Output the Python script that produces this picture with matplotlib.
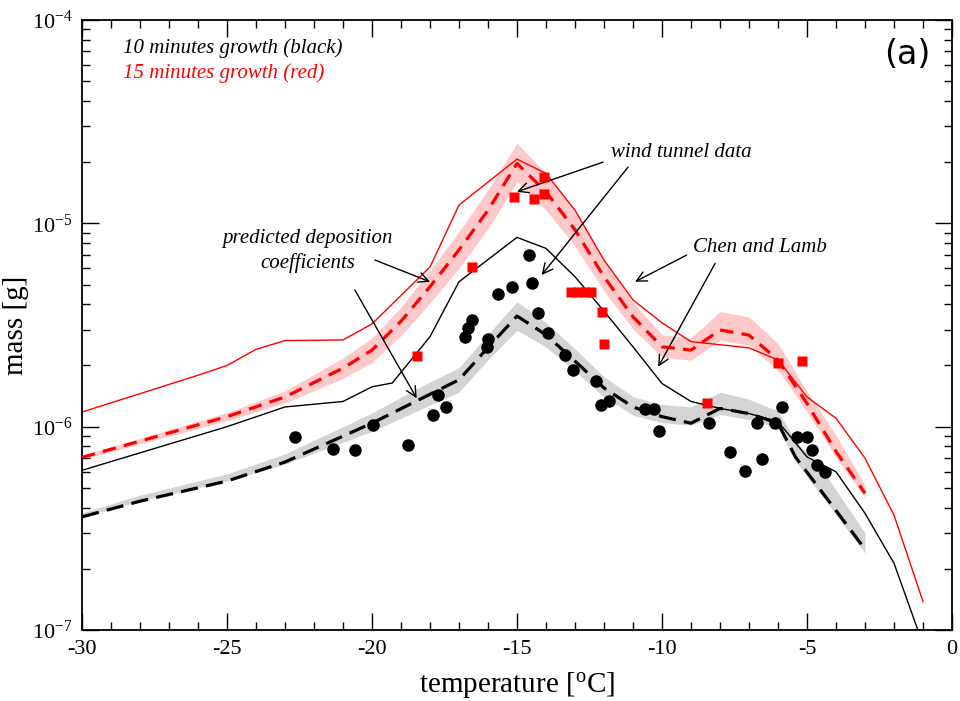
import numpy as np
import matplotlib
matplotlib.use('Agg')
from matplotlib import pyplot as plt
from matplotlib.ticker import FixedLocator, FixedFormatter, NullFormatter

plt.rcParams['font.family'] = 'serif'
plt.rcParams['font.serif'] = ['Liberation Serif', 'DejaVu Serif']
plt.rcParams['axes.unicode_minus'] = False

# Chen and Lamb (thin solid lines)
red_cl_t = [-30, -26, -25, -24, -23, -21, -20, -18, -17, -15, -14, -13, -12, -11, -10, -9, -7, -6, -5, -4, -3, -2, -1]
red_cl_m = [1.18e-6, 1.79e-6, 2.0e-6, 2.4e-6, 2.65e-6, 2.67e-6, 3.2e-6, 6.1e-6, 1.23e-5, 2.07e-5, 1.76e-5, 1.16e-5,
            6.6e-6, 4.2e-6, 3.24e-6, 2.62e-6, 2.44e-6, 2.13e-6, 1.40e-6, 1.10e-6, 7.0e-7, 3.67e-7, 1.38e-7]

blk_cl_t = [-30, -25, -23, -21, -20, -19.3, -18, -17, -15, -14, -13, -12, -11, -10, -9, -8, -7, -6, -5, -4, -3, -2, -1]
blk_cl_m = [6.1e-7, 1.0e-6, 1.25e-6, 1.33e-6, 1.57e-6, 1.64e-6, 2.77e-6, 5.16e-6, 8.53e-6, 7.53e-6, 5.46e-6, 3.7e-6,
            2.47e-6, 1.63e-6, 1.33e-6, 1.23e-6, 1.16e-6, 1.06e-6, 7.1e-7, 6.0e-7, 3.75e-7, 2.13e-7, 8.5e-8]

# predicted deposition coefficients (dashed + band), band half widths in decades
red_pd_t = [-30, -25, -23, -21, -20, -19, -18, -17, -16, -15, -14, -13, -12, -11, -10, -9, -8, -7, -6, -5, -4, -3]
red_pd_m = [7.06e-7, 1.12e-6, 1.40e-6, 1.94e-6, 2.38e-6, 3.3e-6, 4.88e-6, 7.4e-6, 1.16e-5, 1.97e-5, 1.43e-5, 9.3e-6,
            5.46e-6, 3.47e-6, 2.47e-6, 2.38e-6, 2.99e-6, 2.82e-6, 2.13e-6, 1.3e-6, 7.55e-7, 4.7e-7]
red_band_up = [0.01, 0.02, 0.03, 0.05, 0.06, 0.07, 0.08, 0.09, 0.1, 0.1, 0.09, 0.09, 0.08, 0.07, 0.06, 0.06,
               0.09, 0.09, 0.08, 0.06, 0.08, 0.04]
red_band_dn = [0.01, 0.02, 0.03, 0.05, 0.06, 0.07, 0.08, 0.09, 0.09, 0.09, 0.09, 0.08, 0.07, 0.06, 0.05, 0.05,
               0.05, 0.05, 0.05, 0.04, 0.03, 0.02]

blk_pd_t = [-30, -28, -25, -23, -20, -18.5, -17, -16, -15, -14, -13, -12, -11, -10, -9, -8, -7, -6, -5.4, -4.4, -3]
blk_pd_m = [3.6e-7, 4.3e-7, 5.4e-7, 6.7e-7, 1.04e-6, 1.33e-6, 1.7e-6, 2.45e-6, 3.5e-6, 2.83e-6, 2.1e-6, 1.55e-6,
            1.25e-6, 1.12e-6, 1.04e-6, 1.23e-6, 1.16e-6, 1.04e-6, 7.1e-7, 4.6e-7, 2.5e-7]
blk_band_up = [0.02, 0.03, 0.035, 0.04, 0.05, 0.06, 0.06, 0.065, 0.07, 0.06, 0.06, 0.055, 0.05, 0.06, 0.08,
               0.08, 0.07, 0.06, 0.08, 0.11, 0.08]
blk_band_dn = [0.0, 0.0, 0.0, 0.01, 0.04, 0.05, 0.06, 0.06, 0.07, 0.06, 0.05, 0.045, 0.04, 0.03, 0.01,
               0.03, 0.03, 0.02, 0.02, 0.02, 0.02]

# wind tunnel data
wt10_t = [-22.66, -21.36, -20.59, -19.96, -18.75, -17.9, -17.72, -17.45, -16.79, -16.69, -16.56, -16.04, -15.99,
          -15.67, -15.16, -14.58, -14.49, -14.27, -13.92, -13.34, -13.06, -12.28, -12.1, -11.82, -10.59, -10.28,
          -10.1, -8.37, -7.66, -7.14, -6.56, -6.71, -6.1, -5.87, -5.33, -4.99, -4.82, -4.67, -4.38]
wt10_m = [8.9e-7, 7.8e-7, 7.7e-7, 1.02e-6, 8.1e-7, 1.14e-6, 1.43e-6, 1.25e-6, 2.77e-6, 3.05e-6, 3.34e-6, 2.47e-6,
          2.70e-6, 4.47e-6, 4.88e-6, 6.98e-6, 5.07e-6, 3.63e-6, 2.88e-6, 2.25e-6, 1.91e-6, 1.68e-6, 1.28e-6,
          1.33e-6, 1.22e-6, 1.22e-6, 9.5e-7, 1.04e-6, 7.5e-7, 6.05e-7, 6.9e-7, 1.04e-6, 1.04e-6, 1.25e-6,
          8.9e-7, 8.9e-7, 7.7e-7, 6.5e-7, 5.96e-7]

wt15_t = [-18.46, -16.56, -15.09, -14.4, -14.06, -14.06, -13.15, -12.9, -12.65, -12.45, -12.08, -11.99, -8.46,
          -6.01, -5.16]
wt15_m = [2.22e-6, 6.12e-6, 1.35e-5, 1.32e-5, 1.39e-5, 1.69e-5, 4.6e-6, 4.6e-6, 4.6e-6, 4.6e-6, 3.65e-6, 2.55e-6,
          1.30e-6, 2.06e-6, 2.11e-6]

fig = plt.figure(figsize=(9.6, 7.01), dpi=100)
ax = fig.add_axes([82 / 960, 1 - 630 / 701, 870 / 960, 610 / 701])
ax.set_yscale('log')


def band(t, m, up, dn, color):
    m = np.array(m)
    ax.fill_between(t, m * 10 ** np.array(up), m / 10 ** np.array(dn), color=color, lw=0, zorder=1)


band(red_pd_t, red_pd_m, red_band_up, red_band_dn, '#ffc9c9')
band(blk_pd_t, blk_pd_m, blk_band_up, blk_band_dn, '#d4d4d4')

ax.plot(red_cl_t, red_cl_m, color='red', lw=1.0, zorder=2)
ax.plot(blk_cl_t, blk_cl_m, color='black', lw=1.0, zorder=2)
ax.plot(red_pd_t, red_pd_m, color='red', lw=2.3, dashes=(4.2, 2.6), zorder=3)
ax.plot(blk_pd_t, blk_pd_m, color='black', lw=2.3, dashes=(5.4, 2.6), zorder=3)

ax.plot(wt10_t, wt10_m, 'o', color='black', ms=8, zorder=4)
ax.plot(wt15_t, wt15_m, 's', color='red', ms=6.5, mec='none', zorder=5)

ax.set_xlim(-30, 0)
ax.set_ylim(1e-7, 1e-4)

ax.xaxis.set_major_locator(FixedLocator([-30, -25, -20, -15, -10, -5, 0]))
ax.xaxis.set_minor_locator(FixedLocator(np.arange(-29, 0, 1)))
ax.yaxis.set_major_locator(FixedLocator([1e-7, 1e-6, 1e-5, 1e-4]))
ax.yaxis.set_major_formatter(FixedFormatter([r'$\mathregular{10^{-7}}$', r'$\mathregular{10^{-6}}$',
                                             r'$\mathregular{10^{-5}}$', r'$\mathregular{10^{-4}}$']))
ax.yaxis.set_minor_locator(FixedLocator([k * 10.0 ** e for e in (-7, -6, -5) for k in range(2, 10)]))
ax.yaxis.set_minor_formatter(NullFormatter())

ax.tick_params(which='both', direction='in', top=True, right=True, width=1.0, labelsize=16)
ax.tick_params(which='major', length=12, pad=7)
ax.tick_params(which='minor', length=6)
for s in ax.spines.values():
    s.set_linewidth(1.3)

ax.set_xlabel(r'temperature [$\mathregular{^{o}}$C]', fontsize=21, labelpad=8)
ax.set_ylabel('mass [g]', fontsize=21, labelpad=2)

ax.text(0.047, 0.954, '10 minutes growth (black)', transform=ax.transAxes, fontsize=15, style='italic',
        color='black', va='center', ha='left')
ax.text(0.047, 0.913, '15 minutes growth (red)', transform=ax.transAxes, fontsize=15, style='italic',
        color='red', va='center', ha='left')
ax.text(0.975, 0.943, '(a)', transform=ax.transAxes, fontsize=24, family='DejaVu Sans', va='center', ha='right')

arrow = dict(arrowstyle='->', color='black', lw=1.0, mutation_scale=18, shrinkA=0, shrinkB=0)
ax.text(-9.34, 2.22e-5, 'wind tunnel data', fontsize=15, style='italic', ha='center', va='center')
ax.annotate('', xy=(-15.0, 1.43e-5), xytext=(-12.03, 2.0e-5), arrowprops=arrow)
ax.annotate('', xy=(-14.15, 5.57e-6), xytext=(-11.17, 1.89e-5), arrowprops=arrow)

ax.text(-6.62, 7.64e-6, 'Chen and Lamb', fontsize=15, style='italic', ha='center', va='center')
ax.annotate('', xy=(-10.93, 5.16e-6), xytext=(-9.15, 6.98e-6), arrowprops=arrow)
ax.annotate('', xy=(-10.13, 1.97e-6), xytext=(-8.17, 6.35e-6), arrowprops=arrow)

ax.text(-22.22, 8.43e-6, 'predicted deposition', fontsize=15, style='italic', ha='center', va='center')
ax.text(-22.22, 6.35e-6, 'coefficients', fontsize=15, style='italic', ha='center', va='center')
ax.annotate('', xy=(-18.0, 5.16e-6), xytext=(-19.9, 6.6e-6), arrowprops=arrow)
ax.annotate('', xy=(-18.46, 1.38e-6), xytext=(-20.59, 4.7e-6), arrowprops=arrow)

fig.savefig('out.png', dpi=100)
